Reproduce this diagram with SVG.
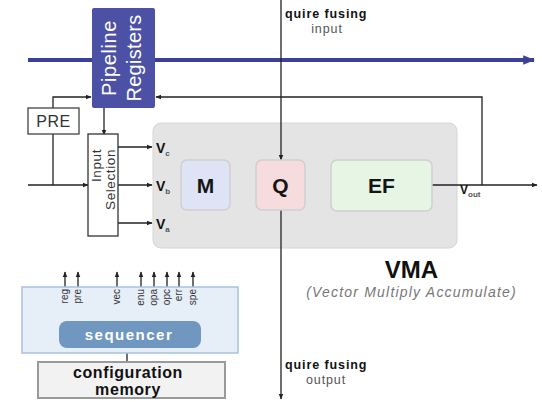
<svg xmlns="http://www.w3.org/2000/svg" width="542" height="402" viewBox="0 0 542 402">
  <style>
    text { font-family: "Liberation Sans", "DejaVu Sans", sans-serif; }
    .wire { stroke: #222; stroke-width: 1.3; fill: none; }
    .bus { stroke: #3d4098; stroke-width: 4; fill: none; }
    .lbl { font-weight: bold; fill: #111; }
    .sub { font-size: 8px; fill: #555; }
    .unit { stroke: #cfcfcf; stroke-width: 1.5; }
    .big { font-size: 21px; font-weight: bold; fill: #151515; text-anchor: middle; }
    .sig { font-size: 10px; fill: #333; text-anchor: end; }
    .qf { font-size: 12.5px; letter-spacing: 0.9px; }
  </style>
  <defs>
    <marker id="ah" viewBox="0 0 10 10" refX="9" refY="5" markerWidth="6" markerHeight="6" orient="auto" markerUnits="userSpaceOnUse">
      <path d="M0,1 L10,5 L0,9 z" fill="#222"/>
    </marker>
    <marker id="ahb" viewBox="0 0 10 10" refX="9" refY="5" markerWidth="3" markerHeight="3" orient="auto">
      <path d="M0,1 L10,5 L0,9 z" fill="#3d4098"/>
    </marker>
  </defs>

  <!-- VMA container -->
  <g id="vma">
    <rect x="153" y="123" width="304" height="125" rx="8" fill="#e4e4e4" stroke="#d6d6d6"/>
    <text x="411.5" y="278" font-size="24" font-weight="bold" fill="#111" text-anchor="middle">VMA</text>
    <text x="411.5" y="297" font-size="14" font-style="italic" fill="#777" text-anchor="middle" letter-spacing="1.2">(Vector Multiply Accumulate)</text>
  </g>

  <g id="connectors">
    <!-- vector bus -->
    <line class="bus" x1="28" y1="60" x2="534" y2="60" marker-end="url(#ahb)"/>
    <!-- quire fusing input / output -->
    <line class="wire" x1="281" y1="0" x2="281" y2="160" marker-end="url(#ah)"/>
    <line class="wire" x1="281" y1="210" x2="281" y2="399" marker-end="url(#ah)"/>
    <!-- feedback from Vout to pipeline registers -->
    <polyline class="wire" points="482,185 482,97 156,97" marker-end="url(#ah)"/>
    <!-- PRE to pipeline registers -->
    <polyline class="wire" points="53,108 53,97 91,97" marker-end="url(#ah)"/>
    <!-- PRE into input line -->
    <line class="wire" x1="53" y1="134" x2="53" y2="185"/>
    <!-- external input -->
    <line class="wire" x1="28" y1="185" x2="88" y2="185" stroke-width="2.2" marker-end="url(#ah)"/>
    <!-- pipeline registers to input selection -->
    <line class="wire" x1="104" y1="108" x2="104" y2="135" marker-end="url(#ah)"/>
    <!-- input selection outputs -->
    <line class="wire" x1="118" y1="147" x2="152" y2="147" marker-end="url(#ah)"/>
    <line class="wire" x1="118" y1="185" x2="152" y2="185" marker-end="url(#ah)"/>
    <line class="wire" x1="118" y1="223" x2="152" y2="223" marker-end="url(#ah)"/>
    <!-- EF output -->
    <line class="wire" x1="432" y1="185" x2="537" y2="185" marker-end="url(#ah)"/>
    <!-- sequencer control signals -->
    <g class="wire">
      <line x1="65" y1="287" x2="65" y2="272" marker-end="url(#ah)"/>
      <line x1="78" y1="287" x2="78" y2="272" marker-end="url(#ah)"/>
      <line x1="117" y1="287" x2="117" y2="272" marker-end="url(#ah)"/>
      <line x1="141" y1="287" x2="141" y2="272" marker-end="url(#ah)"/>
      <line x1="154" y1="287" x2="154" y2="272" marker-end="url(#ah)"/>
      <line x1="167" y1="287" x2="167" y2="272" marker-end="url(#ah)"/>
      <line x1="179" y1="287" x2="179" y2="272" marker-end="url(#ah)"/>
      <line x1="193" y1="287" x2="193" y2="272" marker-end="url(#ah)"/>
    </g>
    <!-- config memory link -->
    <line class="wire" x1="127" y1="353" x2="127" y2="362"/>
  </g>

  <g id="quire-in-label">
    <text x="285" y="18" class="lbl qf">quire fusing</text>
    <text x="327" y="33" class="qf" fill="#555" text-anchor="middle">input</text>
  </g>
  <g id="quire-out-label">
    <text x="285" y="369" class="lbl qf">quire fusing</text>
    <text x="326" y="384" class="qf" fill="#555" text-anchor="middle">output</text>
  </g>

  <g id="pipeline-registers">
    <rect x="92" y="8" width="63" height="100" rx="2" fill="#4c51a6"/>
    <text transform="translate(116,58) rotate(-90)" font-size="20" fill="#fff" text-anchor="middle" letter-spacing="0.6">Pipeline</text>
    <text transform="translate(141,58) rotate(-90)" font-size="20" fill="#fff" text-anchor="middle" letter-spacing="0.3">Registers</text>
  </g>

  <g id="pre">
    <rect x="28" y="108" width="51" height="26" fill="#fff" stroke="#444" stroke-width="1.3"/>
    <text x="53.5" y="127" font-size="16" fill="#333" text-anchor="middle" letter-spacing="0.5">PRE</text>
  </g>

  <g id="input-selection">
    <rect x="88" y="134" width="30" height="102" fill="#fff" stroke="#333" stroke-width="1.3"/>
    <text transform="translate(101,149) rotate(-90)" font-size="13.5" fill="#333" text-anchor="end" letter-spacing="0.6">Input</text>
    <text transform="translate(114.5,149) rotate(-90)" font-size="13.5" fill="#333" text-anchor="end" letter-spacing="0.6">Selection</text>
  </g>

  <g id="operand-labels">
    <text x="156" y="153" font-size="14" class="lbl">V<tspan class="sub" dy="3">c</tspan></text>
    <text x="156" y="191" font-size="14" class="lbl">V<tspan class="sub" dy="3">b</tspan></text>
    <text x="156" y="229" font-size="14" class="lbl">V<tspan class="sub" dy="3">a</tspan></text>
    <text x="460" y="194" font-size="12" class="lbl">V<tspan class="sub" dy="3" font-size="6">out</tspan></text>
  </g>

  <g id="m">
    <rect class="unit" x="181" y="160" width="49" height="50" rx="6" fill="#dfe3f6"/>
    <text class="big" x="205.5" y="193">M</text>
  </g>
  <g id="q">
    <rect class="unit" x="256" y="160" width="49" height="50" rx="6" fill="#f6dcdc"/>
    <text class="big" x="280.5" y="193">Q</text>
  </g>
  <g id="ef">
    <rect class="unit" x="331" y="160" width="101" height="51" rx="6" fill="#e7f5e5"/>
    <text class="big" x="381.5" y="193">EF</text>
  </g>

  <g id="sequencer">
    <rect x="22" y="287" width="216" height="66" fill="#e6eef8" stroke="#a8c2de" stroke-width="1.5"/>
    <rect x="59" y="321" width="142" height="27" rx="8" fill="#6f97c0"/>
    <text x="129" y="340" font-size="15" font-weight="bold" fill="#fff" text-anchor="middle" letter-spacing="1.5">sequencer</text>
    <text class="sig" transform="translate(68,289) rotate(-90)">reg</text>
    <text class="sig" transform="translate(81,289) rotate(-90)">pre</text>
    <text class="sig" transform="translate(120,289) rotate(-90)">vec</text>
    <text class="sig" transform="translate(144,289) rotate(-90)">enu</text>
    <text class="sig" transform="translate(157,289) rotate(-90)">opa</text>
    <text class="sig" transform="translate(170,289) rotate(-90)">opc</text>
    <text class="sig" transform="translate(182,289) rotate(-90)">err</text>
    <text class="sig" transform="translate(196,289) rotate(-90)">spe</text>
  </g>

  <g id="configuration-memory">
    <rect x="38" y="362" width="187" height="36" fill="#f2f2f2" stroke="#9a9a9a" stroke-width="2"/>
    <text x="128" y="378" font-size="16" font-weight="bold" fill="#111" text-anchor="middle" letter-spacing="0.6">configuration</text>
    <text x="128" y="395" font-size="16" font-weight="bold" fill="#111" text-anchor="middle" letter-spacing="0.6">memory</text>
  </g>
</svg>
